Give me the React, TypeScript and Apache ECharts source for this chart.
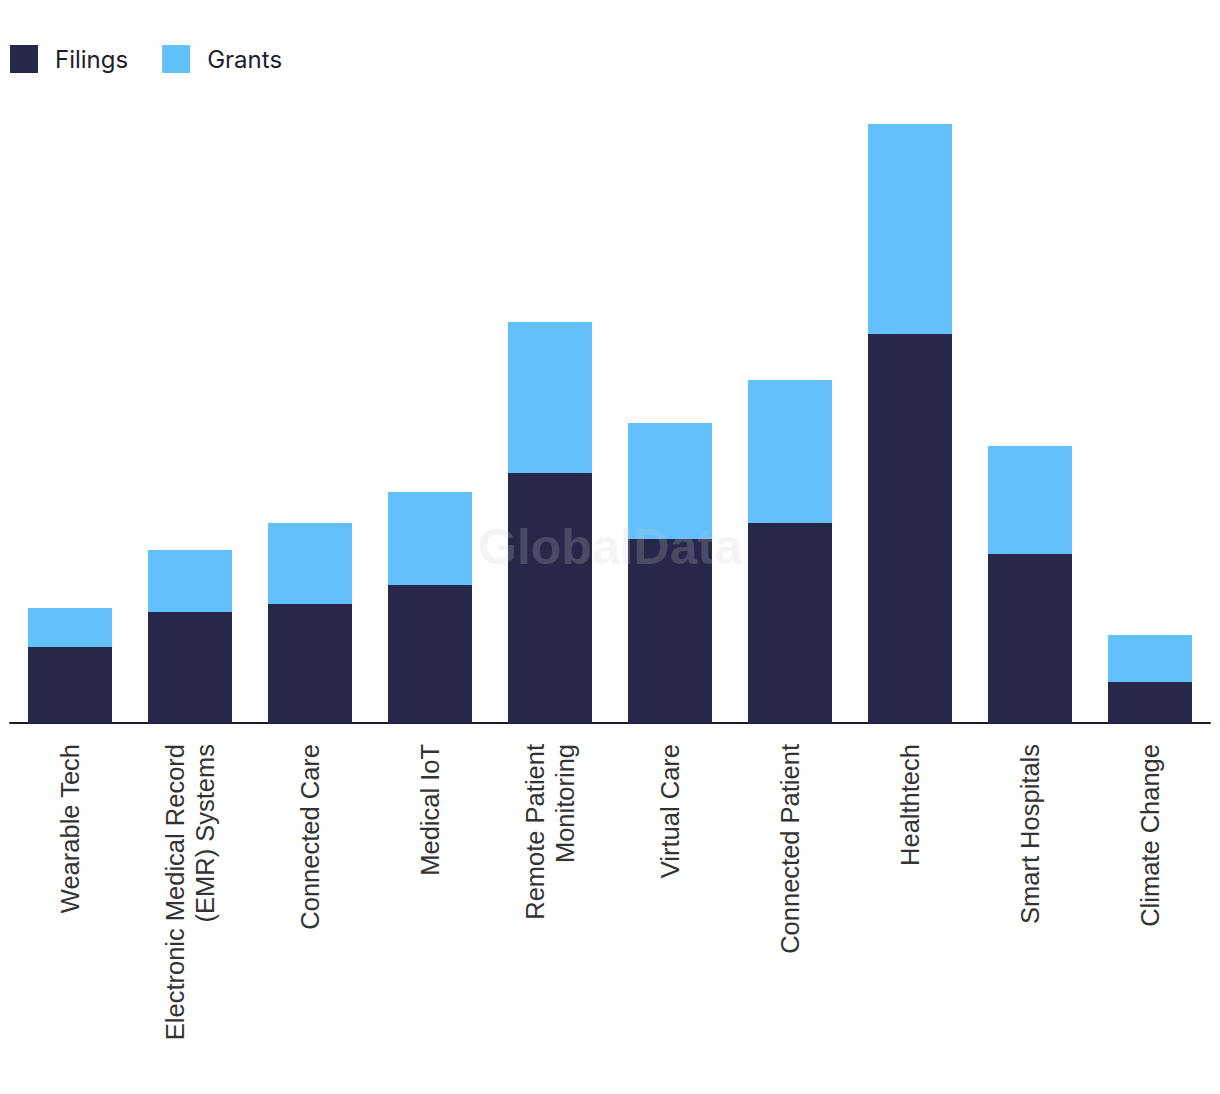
import React, { useEffect, useRef } from "react";
import * as echarts from "echarts";

const categories = [
  "Wearable Tech",
  "Electronic Medical Record\n(EMR) Systems",
  "Connected Care",
  "Medical IoT",
  "Remote Patient\nMonitoring",
  "Virtual Care",
  "Connected Patient",
  "Healthtech",
  "Smart Hospitals",
  "Climate Change",
];
const filings = [76, 111, 119, 138, 250, 184, 200, 389, 169, 41];
const grants = [39, 62, 81, 93, 151, 116, 143, 210, 108, 47];

export default function App() {
  const ref = useRef<HTMLDivElement>(null);
  useEffect(() => {
    if (!ref.current) return;
    const chart = echarts.init(ref.current, undefined, { renderer: "svg" });
    chart.setOption({
      animation: false,
      backgroundColor: "#ffffff",
      legend: {
        left: 10,
        top: 45,
        padding: 0,
        itemWidth: 28,
        itemHeight: 28,
        itemGap: 34,
        icon: "rect",
        data: ["Filings", "Grants"],
        textStyle: {
          fontFamily: "Inter",
          fontSize: 24,
          color: "#1d1d2c",
          padding: [0, 0, 0, 12],
        },
      },
      grid: { left: 10, right: 10, top: 123, bottom: 371, containLabel: false },
      xAxis: {
        type: "category",
        data: categories,
        axisTick: { show: false },
        axisLine: { lineStyle: { color: "#1b1b2e", width: 2 } },
        axisLabel: {
          rotate: 90,
          interval: 0,
          margin: 21,
          fontFamily: "Liberation Sans",
          fontSize: 25.5,
          lineHeight: 30,
          color: "#333333",
        },
      },
      yAxis: { type: "value", min: 0, max: 600, show: false, splitLine: { show: false } },
      series: [
        {
          name: "Filings",
          type: "bar",
          stack: "total",
          barWidth: 84,
          data: filings,
          itemStyle: { color: "#272849" },
        },
        {
          name: "Grants",
          type: "bar",
          stack: "total",
          barWidth: 84,
          data: grants,
          itemStyle: { color: "#62C0FA" },
        },
      ],
      graphic: [
        {
          type: "text",
          left: "center",
          top: 522,
          z: 100,
          style: {
            text: "GlobalData",
            font: "bold 50px 'Liberation Sans', Arial, sans-serif",
            fill: "rgba(203,203,212,0.21)",
          },
        },
      ],
    });
    return () => chart.dispose();
  }, []);
  return (
    <div
      ref={ref}
      style={{ position: "absolute", left: 0, top: 0, width: 1220, height: 1094 }}
    />
  );
}
